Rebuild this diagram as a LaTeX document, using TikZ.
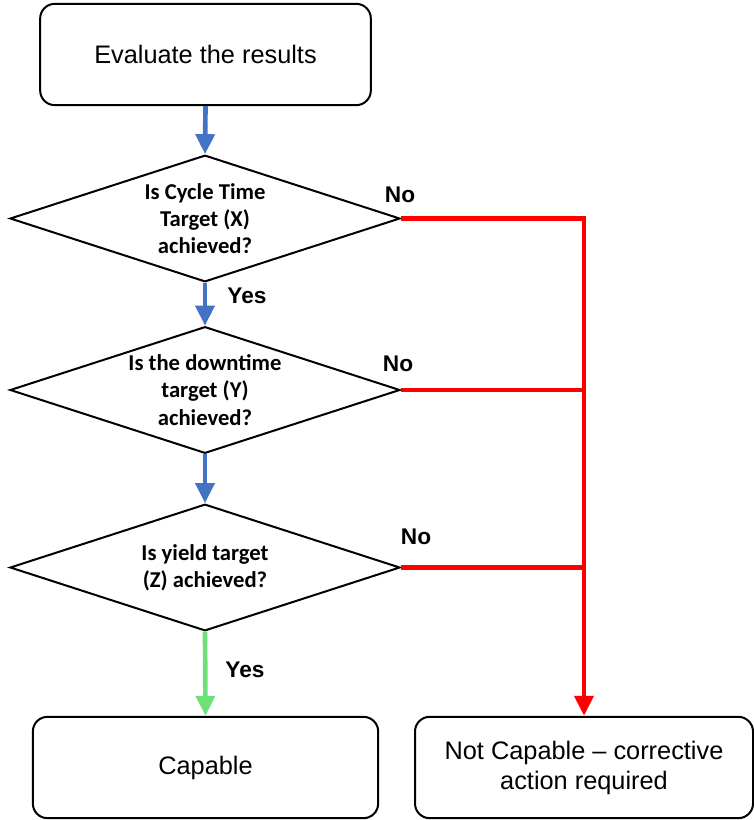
\documentclass[tikz,border=0pt]{standalone}
\usepackage{fontspec}
\setmainfont{Liberation Sans}
\newfontfamily\calibri{Carlito}
\usetikzlibrary{shapes.geometric,arrows.meta}
\definecolor{myblue}{RGB}{68,114,196}
\definecolor{myred}{RGB}{255,0,0}
\definecolor{mygreen}{RGB}{110,224,122}

\begin{document}
\begin{tikzpicture}[x=0.75pt,y=-0.75pt,>={Triangle[length=15pt,width=14pt]},
  box/.style={draw, line width=1.5pt, rounded corners=11pt, align=center, minimum height=76pt, inner sep=0pt, font=\fontsize{19}{22.5}\selectfont},
  raute/.style={draw, diamond, aspect=3, line width=1.5pt, minimum width=292.5pt, minimum height=95pt, inner sep=0pt, align=center, font=\calibri\bfseries\fontsize{17}{20.5}\selectfont},
  antwort/.style={font=\bfseries\fontsize{17}{20}\selectfont},
  blau/.style={->, line width=3.5pt, color=myblue},
  gruen/.style={->, line width=3.5pt, color=mygreen},
  rot/.style={line width=3.5pt, color=myred}]
\useasboundingbox (0,0) rectangle (753,820);

%Kaesten oben und unten
\node[box, minimum width=248pt] (eval) at (205.5,54.5) {Evaluate the results};
\node[box, minimum width=259pt] (cap) at (205.5,767.5) {Capable};
\node[box, minimum width=253.5pt] (notcap) at (584,767.5) {Not Capable – corrective\\action required};

%Rauten mit den Fragen
\node[raute] (q1) at (205,218.5) {Is Cycle Time\\Target (X)\\achieved?};
\node[raute] (q2) at (205,390) {Is the downtime\\target (Y)\\achieved?};
\node[raute] (q3) at (205,567.5) {Is yield target\\(Z) achieved?};

%Pfeile nach unten
\draw[blau] (eval.south) to (q1.north);
\draw[blau] (q1.south) to (q2.north);
\draw[blau] (q2.south) to (q3.north);
\draw[gruen] (q3.south) to (cap.north);
\node[antwort] (yes1) at (247,296) {Yes};
\node[antwort] (yes2) at (245,670) {Yes};

%Rote Leitung rechts
\draw[rot,->] (q1.east) -| (notcap.north);
\draw[rot] (q2.east) to (q2.east -| notcap.north);
\draw[rot] (q3.east) to (q3.east -| notcap.north);
\node[antwort] (no1) at (400,195) {No};
\node[antwort] (no2) at (398,364) {No};
\node[antwort] (no3) at (416,537) {No};

\end{tikzpicture}
\end{document}
